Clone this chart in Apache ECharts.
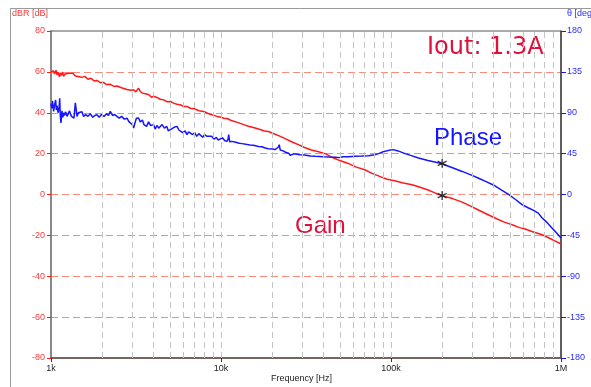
<!DOCTYPE html>
<html>
<head>
<meta charset="utf-8">
<script src="https://cdn.jsdelivr.net/npm/echarts@6/dist/echarts.min.js"></script>
<style>
  html, body { margin: 0; padding: 0; background: #fff; }
  #chart { width: 591px; height: 387px; }
</style>
</head>
<body>
<div id="chart"></div>
<script>
// Loop gain (dB) and phase (deg) versus frequency, Iout = 1.3 A
const gainFreq = [1000,1020,1036,1050,1070,1085,1100,1120,1134,1150,1170,1186,1210,1242,1270,1299,1340,1390,1422,1470,1520,1580,1650,1720,1800,1864,1950,2030,2120,2232,2350,2444,2600,2797,2950,3062,3150,3272,3350,3450,3584,3750,3900,4014,4200,4394,4600,4800,5037,5300,5511,5800,6050,6306,6594,7000,7300,7564,7900,8277,8700,9200,9600,9887,10400,10838,11500,12500,13600,14500,15500,16800,18000,19000,20000,22000,24000,26000,28500,31000,34000,37000,41000,45000,50000,56000,62000,70000,78000,88000,95000,105000,118000,133000,150000,170000,195000,200000,230000,260000,288000,320000,360000,409000,460000,520000,570000,616000,680000,775000,850000,920000,1000000];
const gainDb = [60.2,59.5,60.4,59.0,60.8,58.6,59.8,57.6,59.5,58.2,59.9,57.8,59.0,58.3,59.3,58.6,59.4,58.0,58.8,57.6,57.3,57.8,56.4,56.9,55.5,55.8,54.7,54.9,53.8,53.9,52.9,53.1,52.2,51.4,51.0,51.3,50.2,52.0,50.4,49.6,49.3,48.9,47.6,48.1,47.5,46.6,46.3,45.4,45.5,44.6,44.2,43.8,43.0,43.1,42.2,41.9,41.2,40.8,40.6,39.9,39.1,38.6,38.0,37.9,37.3,37.2,36.2,35.3,34.2,33.4,32.8,31.9,31.1,30.8,30.1,28.7,27.2,25.8,24.4,23.0,21.8,21.0,20.0,18.2,16.6,15.2,13.5,12.1,10.2,8.5,7.5,6.7,5.6,4.8,3.4,1.8,-0.3,-0.6,-2.0,-3.6,-5.3,-7.2,-9.3,-11.5,-13.4,-14.9,-16.2,-16.9,-18.2,-19.7,-21.3,-22.7,-24.2];

const phaseFreq = [1000,1010,1020,1036,1050,1065,1075,1085,1100,1115,1125,1134,1145,1160,1175,1186,1200,1220,1242,1265,1285,1299,1320,1345,1365,1390,1410,1422,1450,1487,1520,1555,1600,1650,1700,1760,1810,1864,1920,1980,2050,2120,2180,2232,2300,2370,2444,2520,2600,2700,2797,2880,2950,3000,3062,3120,3180,3272,3350,3450,3520,3584,3650,3750,3850,3950,4014,4100,4200,4300,4394,4500,4650,4800,4900,5037,5150,5300,5400,5511,5650,5800,5950,6150,6306,6450,6594,6800,7000,7200,7400,7564,7800,8000,8277,8500,8800,9100,9400,9600,9887,10200,10500,10838,11000,11100,11250,11600,12200,12800,13300,14000,14800,15500,15900,16600,17400,18200,19000,20000,20800,21300,21700,22000,22300,23000,24000,25000,25600,26000,26500,27500,29000,31000,33500,36000,40000,43000,47000,50000,52000,56000,61600,67000,73800,80000,84600,90000,97000,103000,110000,121000,133000,145000,165000,195000,200000,230000,262000,300000,330000,360000,400000,450000,494000,540000,590000,640000,690000,735000,775000,830000,885000,940000,1000000];
const phaseDeg = [100,95,103,91.5,99,104,93,98,90,95,106,87,78.7,92,85,90,87,91,86,88,92,89,86,88,84,100.8,92,86,90,88,91,86,88,86,89,85,87,87.9,85,88,86,89,87,91.5,87,88,86,84,86,83,84,80,82,77,73.2,79,84,84.2,80,82,77,79,75,80,76,78,76.9,72,76,73,74,77,73,75,70,71.4,70,74,73,75,71,70,68,70,65.9,69,70,66,68,64,67,66,63,66,64,62,64,61,63,60,61.1,62.5,59.5,58.5,61,65.9,58,58.5,57.5,56.5,56,55.2,54.6,54.3,53.7,52.8,52.6,51.2,50.4,50,49.5,48.6,52,54.8,49,48.3,46.5,45.5,43,41.3,44.5,44.5,43.8,43.5,42.5,42,41.5,41.3,41.1,40.6,41.6,41.5,42,42.3,42.7,43.8,45,47,48.6,49.4,48,45,42.5,40.2,37.5,34.4,34.0,29.5,25.4,21,17.6,14.4,10.5,4.5,-0.2,-5.5,-11.2,-14.6,-17.5,-20.5,-25.9,-31,-36.9,-42,-47.9];

// Cursor readout at 200 kHz
const cursorFreq = [200000];
const cursorGain = [-0.5];
const cursorPhase = [34.3];

// Axis ticks
const xTickValues = [1000, 10000, 100000, 1000000];
const xTickLabels = ['1k', '10k', '100k', '1M'];
const gridFreqs = [2000,3000,4000,5000,6000,7000,8000,9000,10000,20000,30000,40000,50000,60000,70000,80000,90000,100000,200000,300000,400000,500000,600000,700000,800000,900000];
const gainRange = [-80, 80, 20];
const phaseRange = [-180, 180, 45];

const pair = (xs, ys) => xs.map((x, i) => [x, ys[i]]);
const labelFont = 'Liberation Sans, Arial, sans-serif';
const RED = '#ff1a1a';
const BLUE = '#1515ff';
const asterisk = 'path://M5,0L5,10M0.67,2.5L9.33,7.5M0.67,7.5L9.33,2.5';

const chart = echarts.init(document.getElementById('chart'), null, { renderer: 'canvas' });
chart.setOption({
  backgroundColor: '#ffffff',
  animation: false,
  grid: {
    left: 51, right: 30, top: 31, bottom: 29,
    show: true, borderColor: '#555', borderWidth: 1, backgroundColor: 'transparent'
  },
  xAxis: {
    type: 'log', logBase: 10, min: 1000, max: 1000000,
    axisLine: { show: true, onZero: false, lineStyle: { color: '#555', width: 1.5 } },
    axisTick: { show: true, inside: false, length: 4, lineStyle: { color: '#333' } },
    axisLabel: {
      color: '#222', fontSize: 9, fontFamily: labelFont, margin: 6,
      formatter: v => { const i = xTickValues.findIndex(t => Math.abs(t - v) / t < 1e-6); return i >= 0 ? xTickLabels[i] : ''; }
    },
    splitLine: { show: false },
    minorTick: { show: false }
  },
  yAxis: [
    {
      type: 'value', min: gainRange[0], max: gainRange[1], interval: gainRange[2],
      axisLine: { show: true, lineStyle: { color: '#888', width: 2 } },
      axisTick: { show: true, inside: false, length: 4, lineStyle: { color: RED } },
      axisLabel: { color: '#ff3838', fontSize: 9, fontFamily: labelFont, margin: 6 },
      splitLine: { show: true, lineStyle: { color: '#fa8a7a', width: 1, type: [7, 4] } }
    },
    {
      type: 'value', min: phaseRange[0], max: phaseRange[1], interval: phaseRange[2],
      position: 'right',
      axisLine: { show: true, lineStyle: { color: '#444', width: 1.5 } },
      axisTick: { show: true, inside: false, length: 5, lineStyle: { color: BLUE } },
      axisLabel: { color: '#2a2aff', fontSize: 9, fontFamily: labelFont, margin: 6 },
      splitLine: { show: false }
    }
  ],
  series: [
    {
      // vertical frequency grid
      type: 'line', data: [], silent: true, z: 1,
      markLine: {
        silent: true, symbol: ['none', 'none'], label: { show: false },
        lineStyle: { color: '#c4c4c4', width: 1, type: [6, 4] },
        data: gridFreqs.map(f => ({ xAxis: f }))
      }
    },
    {
      name: 'Gain', type: 'line', yAxisIndex: 0, z: 3,
      data: pair(gainFreq, gainDb), showSymbol: false, symbol: 'none',
      lineStyle: { color: RED, width: 1.5 }
    },
    {
      name: 'Phase', type: 'line', yAxisIndex: 1, z: 3,
      data: pair(phaseFreq, phaseDeg), showSymbol: false, symbol: 'none',
      lineStyle: { color: BLUE, width: 1.5 }
    },
    {
      type: 'scatter', yAxisIndex: 0, z: 5, symbol: asterisk, symbolSize: 9,
      itemStyle: { color: 'transparent', borderColor: '#111', borderWidth: 1.4 },
      data: pair(cursorFreq, cursorGain)
    },
    {
      type: 'scatter', yAxisIndex: 1, z: 5, symbol: asterisk, symbolSize: 9,
      itemStyle: { color: 'transparent', borderColor: '#111', borderWidth: 1.4 },
      data: pair(cursorFreq, cursorPhase)
    }
  ],
  graphic: [
    { type: 'polyline', silent: true, shape: { points: [[10.5, 387], [10.5, 8.5], [591, 8.5]] },
      style: { stroke: '#9a9a9a', lineWidth: 1, fill: null } },
    { type: 'text', left: 12, top: 9, style: { text: 'dBR [dB]', fill: '#ff3838', font: '9px ' + labelFont } },
    { type: 'text', left: 567, top: 9, style: { text: 'θ [deg]', fill: '#2a2aff', font: '9px ' + labelFont } },
    { type: 'text', left: 271, top: 374, style: { text: 'Frequency [Hz]', fill: '#222', font: '9px ' + labelFont } },
    { type: 'text', left: 427, top: 36, style: { text: 'Iout: 1.3A', fill: '#e0103c', font: '24px DejaVu Sans, sans-serif' } },
    { type: 'text', left: 434, top: 126, style: { text: 'Phase', fill: BLUE, font: '24px ' + labelFont } },
    { type: 'text', left: 295, top: 214, style: { text: 'Gain', fill: '#e0103c', font: '24px ' + labelFont } }
  ]
});
</script>
</body>
</html>
